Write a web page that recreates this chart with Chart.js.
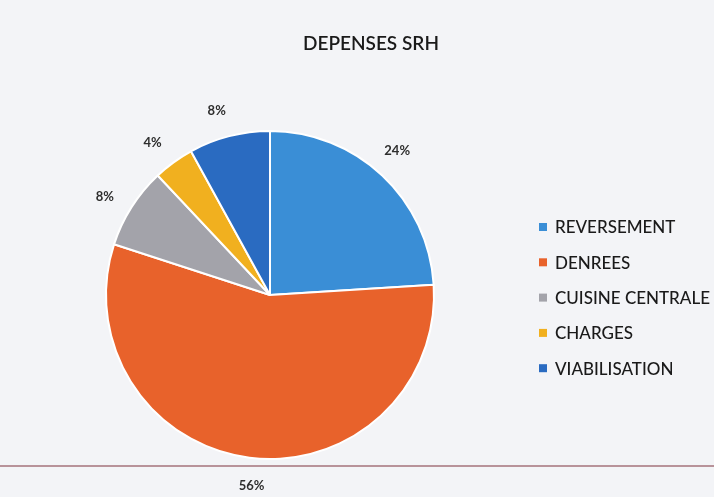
<!DOCTYPE html>
<html>
<head>
<meta charset="utf-8">
<script src="https://cdn.jsdelivr.net/npm/chart.js@4/dist/chart.umd.min.js"></script>
<style>
  html, body { margin:0; padding:0; background:#f3f4f7; }
  #wrap { position:relative; width:714px; height:497px; }
  #rule { position:absolute; left:0; top:465px; width:714px; height:2px; background:#b8939a; }
  canvas { position:absolute; left:0; top:0; }
</style>
</head>
<body>
<div id="wrap">
  <div id="rule"></div>
  <canvas id="pie" width="714" height="497"></canvas>
</div>
<script>
const title = 'DEPENSES SRH';
const categories = ['REVERSEMENT','DENREES','CUISINE CENTRALE','CHARGES','VIABILISATION'];
const values = [24, 56, 8, 4, 8];
const percentLabels = ['24%','56%','8%','4%','8%'];
const colors = ['#3a8ed6','#e8622b','#a3a3aa','#f1b01f','#2a6bc1'];

const FONT = 'Lato, "Open Sans", sans-serif';

// title, outside labels and legend drawn on the canvas
const extras = {
  id: 'extras',
  afterDraw(chart){
    const ctx = chart.ctx;
    ctx.save();
    ctx.fillStyle = '#1a1a1a';
    ctx.font = '600 19px ' + FONT;
    ctx.textAlign = 'center';
    ctx.textBaseline = 'middle';
    ctx.fillText(title, 371, 44);

    // percent labels outside each slice
    const meta = chart.getDatasetMeta(0);
    ctx.font = 'bold 13px ' + FONT;
    ctx.fillStyle = '#2e2e2e';
    meta.data.forEach((arc, i) => {
      const mid = (arc.startAngle + arc.endAngle) / 2 - 0.03;
      const r = arc.outerRadius + 28;
      ctx.fillText(percentLabels[i], arc.x + Math.cos(mid) * r, arc.y + Math.sin(mid) * r);
    });

    // legend
    ctx.font = '500 17px ' + FONT;
    ctx.textAlign = 'left';
    categories.forEach((c, i) => {
      const y = 227 + i * 35.3;
      ctx.fillStyle = colors[i];
      ctx.fillRect(539, y - 4, 8, 8);
      ctx.fillStyle = '#1a1a1a';
      ctx.fillText(c, 555, y + 1);
    });
    ctx.restore();
  }
};

new Chart(document.getElementById('pie'), {
  type: 'pie',
  data: {
    labels: categories,
    datasets: [{ data: values, backgroundColor: colors, borderColor: '#ffffff', borderWidth: 2 }]
  },
  options: {
    responsive: false,
    animation: false,
    layout: { padding: { left: 105, right: 279, top: 130, bottom: 37 } },
    plugins: { legend: { display: false }, title: { display: false }, tooltip: { enabled: false } }
  },
  plugins: [extras]
});
</script>
</body>
</html>
